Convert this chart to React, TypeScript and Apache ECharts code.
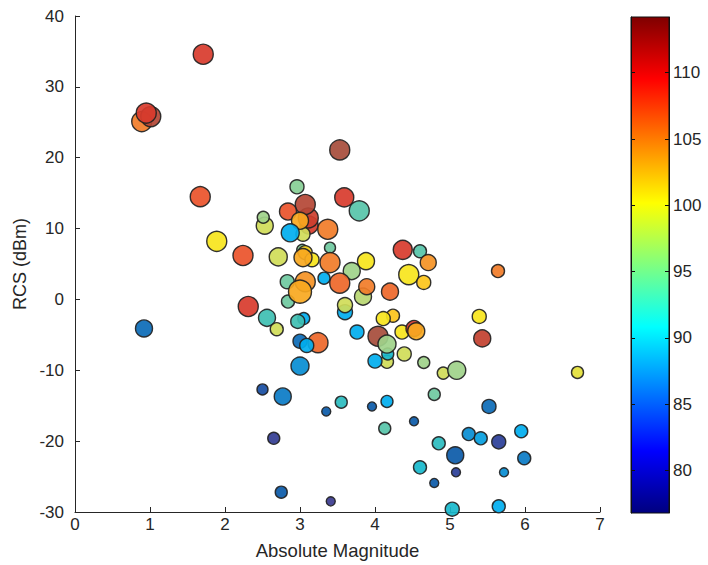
import React, { useEffect, useRef } from "react";
import * as echarts from "echarts";

// Absolute magnitude (x), RCS in dBm (y), colour value, marker diameter
const magnitude = [
  0.89, 1.01, 0.95, 1.71, 1.67, 1.89, 2.24, 2.31, 0.92, 3.53,
  2.96, 3.59, 3.79, 3.12, 3.11, 3.07, 2.53, 2.51, 2.84, 3.04,
  3.0, 2.87, 3.37, 2.71, 3.03, 3.07, 3.16, 3.04, 3.4, 3.4,
  3.88, 3.69, 3.84, 3.53, 3.32, 2.83, 2.84, 3.07, 3.0, 3.89,
  4.2, 3.6, 3.6, 4.37, 4.6, 4.71, 4.45, 4.65, 5.64, 5.39,
  5.43, 4.24, 4.11, 4.04, 4.16, 4.17, 4.16, 3.76, 4.36, 4.52,
  4.55, 4.0, 4.39, 4.65, 4.91, 5.09, 6.7, 4.79, 2.56, 2.69,
  3.05, 2.97, 3.0, 3.24, 3.09, 3.0, 2.5, 2.77, 3.35, 3.55,
  3.96, 4.16, 4.13, 2.65, 2.75, 3.41, 5.52, 4.52, 5.25, 5.41,
  5.65, 5.95, 4.85, 5.07, 5.99, 4.6, 5.08, 5.72, 4.79, 5.03,
  5.65,
];
const rcs = [
  25.1, 25.8, 26.3, 34.6, 14.5, 8.2, 6.2, -1.0, -4.1, 21.1,
  15.9, 14.4, 12.5, 10.5, 11.5, 13.4, 10.4, 11.6, 12.4, 9.2,
  11.1, 9.4, 9.9, 6.0, 7.0, 6.6, 5.6, 5.9, 7.3, 5.2,
  5.4, 4.0, 0.4, 2.3, 3.0, 2.5, -0.3, 2.5, 1.1, 1.8,
  1.1, -1.8, -0.8, 7.0, 6.8, 5.2, 3.5, 2.4, 4.0, -2.4,
  -5.5, -2.3, -2.7, -5.2, -8.8, -7.7, -6.3, -4.6, -4.6, -4.1,
  -4.5, -8.7, -7.7, -8.9, -10.4, -10.0, -10.3, -13.4, -2.6, -4.2,
  -2.7, -3.1, -5.9, -6.1, -6.5, -9.4, -12.7, -13.7, -15.8, -14.5,
  -15.1, -14.4, -18.2, -19.6, -27.2, -28.5, -15.1, -17.2, -19.0, -19.6,
  -20.1, -18.6, -20.3, -22.0, -22.4, -23.7, -24.4, -24.4, -25.9, -29.6,
  -29.2,
];
const colorValue = [
  105, 112, 109, 109, 107, 100, 107, 109, 84, 113,
  95, 109, 93, 109, 110, 112, 98, 96, 107, 98,
  103, 88, 105, 98, 95, 101, 100, 103, 94, 105,
  100, 96, 97, 106, 88, 94, 94, 104, 103, 105,
  106, 88, 98, 109, 93, 104, 100, 102, 105, 100,
  111, 102, 100, 113, 98, 90, 96, 88, 100, 109,
  103, 88, 98, 96, 98, 96, 99, 94, 92, 98,
  88, 92, 84, 106, 88, 86, 82, 85, 83, 91,
  83, 88, 93, 79, 83, 78, 84, 83, 86, 87,
  80, 88, 91, 83, 85, 90, 80, 86, 83, 90,
  88,
];
const markerSize = [
  20, 20, 20, 20, 20, 20, 20, 20, 17, 20,
  14, 19, 20, 18, 20, 20, 17, 12, 17, 14,
  17, 18, 20, 18, 11, 14, 14, 18, 11, 20,
  17, 17, 17, 20, 12, 14, 13, 20, 23, 16,
  17, 15, 15, 19, 13, 16, 20, 14, 13, 14,
  17, 13, 14, 20, 13, 12, 18, 14, 14, 16,
  17, 14, 14, 12, 12, 18, 12, 12, 17, 13,
  12, 14, 14, 20, 14, 18, 11, 17, 9, 12,
  9, 12, 12, 12, 12, 9, 14, 9, 13, 13,
  14, 13, 13, 17, 13, 13, 9, 9, 9, 14,
  13,
];

const xTickValues = [0, 1, 2, 3, 4, 5, 6, 7];
const yTickValues = [-30, -20, -10, 0, 10, 20, 30, 40];
const colorbarTicks = [80, 85, 90, 95, 100, 105, 110];
const colorMin = 76.8;
const colorMax = 114.2;

// muted jet used for the markers
const pointStops: [number, string][] = [
  [78, "#3b3b8f"], [81, "#22409c"], [83, "#0b5aa8"], [85, "#0a7bc6"],
  [87, "#049ede"], [88, "#00aeef"], [90, "#17b9cc"], [92, "#3ebfb2"],
  [94, "#6fc9a0"], [96, "#9fd28a"], [98, "#d0dc58"], [100, "#f7e51c"],
  [102, "#fcc41a"], [103, "#f9a81f"], [105, "#f17c28"], [107, "#ea522a"],
  [109, "#d83b2d"], [111, "#c2402f"], [113, "#a64c3b"],
];

function hexToRgb(h: string) {
  return [parseInt(h.slice(1, 3), 16), parseInt(h.slice(3, 5), 16), parseInt(h.slice(5, 7), 16)];
}
function colorFor(v: number) {
  if (v <= pointStops[0][0]) return pointStops[0][1];
  for (let i = 1; i < pointStops.length; i++) {
    if (v <= pointStops[i][0]) {
      const [v0, c0] = pointStops[i - 1];
      const [v1, c1] = pointStops[i];
      const t = (v - v0) / (v1 - v0);
      const a = hexToRgb(c0), b = hexToRgb(c1);
      const r = a.map((x, k) => Math.round(x + (b[k] - x) * t));
      return `rgb(${r[0]},${r[1]},${r[2]})`;
    }
  }
  return pointStops[pointStops.length - 1][1];
}

export default function App() {
  const ref = useRef<HTMLDivElement>(null);
  useEffect(() => {
    if (!ref.current) return;
    const chart = echarts.init(ref.current, undefined, { renderer: "svg" });
    const data = magnitude.map((x, i) => [x, rcs[i], colorValue[i], markerSize[i]]);
    const font = "'Liberation Sans', Arial, sans-serif";
    const textColor = "#262626";
    const axisColor = "#262626";
    const jet = new echarts.graphic.LinearGradient(0, 1, 0, 0, [
      { offset: 0, color: "#00007f" },
      { offset: 0.125, color: "#0000ff" },
      { offset: 0.375, color: "#00ffff" },
      { offset: 0.625, color: "#ffff00" },
      { offset: 0.875, color: "#ff0000" },
      { offset: 1, color: "#7f0000" },
    ]);
    chart.setOption({
      animation: false,
      backgroundColor: "#ffffff",
      textStyle: { fontFamily: font },
      grid: [
        { left: 75, top: 16, width: 525, height: 497 },
        {
          left: 631, top: 17, width: 38, height: 496, show: true,
          borderColor: "#111", borderWidth: 1, backgroundColor: jet,
        },
      ],
      xAxis: [
        {
          gridIndex: 0, type: "value", min: xTickValues[0], max: xTickValues[xTickValues.length - 1], interval: 1,
          name: "Absolute Magnitude", nameLocation: "middle", nameGap: 29,
          nameTextStyle: { fontFamily: font, fontSize: 18.5, color: textColor },
          axisLine: { show: true, onZero: false, lineStyle: { color: axisColor, width: 1 } },
          axisTick: { show: true, inside: true, length: 5, lineStyle: { color: axisColor } },
          axisLabel: { fontFamily: font, fontSize: 17, color: textColor, margin: 4 },
          splitLine: { show: false },
        },
        { gridIndex: 1, type: "value", min: 0, max: 1, show: false },
      ],
      yAxis: [
        {
          gridIndex: 0, type: "value", min: yTickValues[0], max: yTickValues[yTickValues.length - 1], interval: 10,
          name: "RCS (dBm)", nameLocation: "middle", nameGap: 45, nameRotate: 90,
          nameTextStyle: { fontFamily: font, fontSize: 18, color: textColor },
          axisLine: { show: true, onZero: false, lineStyle: { color: axisColor, width: 1 } },
          axisTick: { show: true, inside: true, length: 5, lineStyle: { color: axisColor } },
          axisLabel: { fontFamily: font, fontSize: 17, color: textColor, margin: 11 },
          splitLine: { show: false },
        },
        {
          gridIndex: 1, type: "value", min: colorMin, max: colorMax, position: "left",
          axisLine: { show: true, onZero: false, lineStyle: { color: "#111" } },
          axisTick: { show: true, inside: true, length: 4, customValues: colorbarTicks, lineStyle: { color: "#111" } },
          axisLabel: { show: false },
          splitLine: { show: false },
        },
        {
          gridIndex: 1, type: "value", min: colorMin, max: colorMax, position: "right",
          axisLine: { show: true, onZero: false, lineStyle: { color: "#111" } },
          axisTick: { show: true, inside: true, length: 4, customValues: colorbarTicks, lineStyle: { color: "#111" } },
          axisLabel: { fontFamily: font, fontSize: 17, color: textColor, margin: 4, customValues: colorbarTicks },
          splitLine: { show: false },
        },
      ],
      series: [
        {
          type: "scatter", xAxisIndex: 0, yAxisIndex: 0, clip: false,
          data,
          symbolSize: (v: number[]) => v[3],
          itemStyle: {
            color: (p: any) => colorFor(p.value[2]),
            borderColor: "#222", borderWidth: 1.4, opacity: 0.92,
          },
        },
      ],
    });
    return () => chart.dispose();
  }, []);
  return (
    <div
      ref={ref}
      style={{ position: "absolute", left: 0, top: 0, width: 708, height: 565 }}
    />
  );
}
